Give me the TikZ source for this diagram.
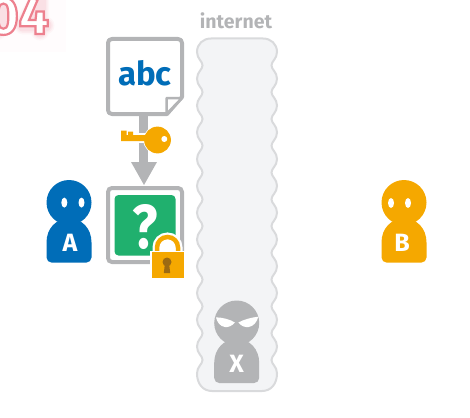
\documentclass[tikz,border=0pt]{standalone}
\usepackage{fontspec}
\setmainfont{Fira Sans}
\definecolor{gr}{HTML}{B3B4B6}
\definecolor{blu}{HTML}{006DB8}
\definecolor{org}{HTML}{F5A800}
\definecolor{grn}{HTML}{20B06E}
\definecolor{cloudf}{HTML}{F3F4F6}
\definecolor{cloudl}{HTML}{D9DADC}
\definecolor{pinkl}{HTML}{EE7F8E}
\definecolor{keyh}{HTML}{9C6A12}
\tikzset{
  person/.pic={
    \fill[pic actions] (-22.5,40) .. controls (-22.5,26) and (-13,16) .. (0,16) .. controls (13,16) and (22.5,26) .. (22.5,40)
       -- (22.5,55) .. controls (22.5,58) and (20,60) .. (17.5,60) -- (-17.5,60) .. controls (-20,60) and (-22.5,58) .. (-22.5,55) -- cycle;
    \fill[pic actions] (0,0) circle (22.5);
  },
  plabel/.style={font=\bfseries\fontsize{25}{25}\selectfont,text=white,inner sep=0pt},
  titlelab/.style={font=\bfseries\fontsize{19.5}{20}\selectfont,text=gr,inner sep=0pt},
  wm/.style={font=\bfseries\fontsize{53}{53}\selectfont,inner sep=0pt,anchor=base east},
  glowfour/.style={pinkl,line join=round,line cap=round},
}
\begin{document}
\begin{tikzpicture}[x=1pt,y=-1pt]
\useasboundingbox (0,0) rectangle (470,417);
\clip (0,0) rectangle (470,417);
% watermark
\fill[white!98!pinkl] (0,0) rectangle (66,52);
\foreach \w/\o in {18/.05,15/.07,12/.1}{
  \draw[glowfour,opacity=\o,line width=\w pt] (-5,12) ellipse [x radius=9,y radius=20];
  \draw[glowfour,opacity=\o,line width=\w pt] (40,31.5) -- (40,-3) -- (23,25.5) -- (45.5,25.5);
}
\node[wm,text=white] (wmark) at (49,34) {\special{pdf:code q 0.93 0.5 0.557 RG 2.2 w 2 Tr}04\special{pdf:code 0 Tr Q}};
% internet
\node[titlelab] (title) at (236,21) {internet};
\path[fill=cloudf,draw=cloudl,line width=2pt]
  (211,38.5) -- (263,38.5) .. controls (271,38.5) and (277,44) .. (277,52)
  \foreach \k in {0,...,11}{
    .. controls (277,{52+\k*26.78+7}) and (271.5,{52+\k*26.78+9}) .. (271.5,{52+\k*26.78+13.4}) .. controls (271.5,{52+\k*26.78+17.8}) and (277,{52+\k*26.78+19.8}) .. (277,{52+\k*26.78+26.78})
  }
  .. controls (277,384) and (271,391) .. (262,391) -- (212,391) .. controls (203,391) and (197,384) .. (197,373.4)
  \foreach \k in {12,...,1}{
    .. controls (197,{52+\k*26.78-7}) and (202.5,{52+\k*26.78-9}) .. (202.5,{52+\k*26.78-13.4}) .. controls (202.5,{52+\k*26.78-17.8}) and (197,{52+\k*26.78-19.8}) .. (197,{52+\k*26.78-26.78})
  }
  .. controls (197,44) and (203,38.5) .. (211,38.5) -- cycle;
% arrow shaft and head
\fill[gr] (138.5,110) rectangle (148,163);
\fill[gr] (131,162) -- (157,162) -- (144,185) -- cycle;
% document
\draw[gr,line width=4pt,line join=round,fill=white] (112,39) -- (178,39) .. controls (180.5,39) and (182,40.5) .. (182,43)
  -- (182,97) -- (167,114) -- (112,114) .. controls (109.5,114) and (108,112.5) .. (108,110) -- (108,43) .. controls (108,40.5) and (109.5,39) .. (112,39) -- cycle;
\draw[gr,line width=2.5pt,line join=round,fill=white] (182,98) -- (166.5,98) -- (166.5,114) -- cycle;
\node[inner sep=0pt,text=blu,font=\bfseries\fontsize{33}{33}\selectfont] (abc) at (145,73) {abc};
% key
\path[draw=white,line width=1.5pt] (120,134) rectangle (147,142);
\path[draw=white,line width=1.5pt] (157.5,140) circle (13.4);
\fill[org] (121,130.7) -- (126.5,130.7) -- (126.5,135) -- (128,135) -- (128,131.7) -- (133,131.7) -- (133,135) -- (150,135) -- (150,141) -- (121,141) -- cycle;
\fill[org] (157.5,140) circle (13.4);
\fill[white] (164.3,139) circle (3);
% locked box
\draw[gr,line width=4pt,rounded corners=4pt,fill=white] (108,188) rectangle (182,262);
\fill[grn,rounded corners=4pt] (114.5,195) rectangle (175.5,255.5);
\node[inner sep=0pt,text=white,font=\bfseries\fontsize{62}{62}\selectfont] (q) at (144.7,227) {\scalebox{.85}[1]{?}};
% padlock
\draw[white,fill=white,line width=9pt] (157,254) -- (157,247.5) arc[start angle=180,end angle=360,radius=10.5] -- (178,254) -- cycle;
\draw[org,line width=4.5pt] (157,254) -- (157,247.5) arc[start angle=180,end angle=360,radius=10.5] -- (178,254);
\draw[white,line width=2pt] (151,252) rectangle (184,278.5);
\fill[org] (152,252) rectangle (183.5,278);
\fill[keyh] (167,262) circle (4.5);
\fill[keyh] (165,263) -- (169,263) -- (170.2,273) -- (163.8,273) -- cycle;
% A
\pic[blu] at (69,202.5) {person};
\fill[white] (64.3,202.6) ellipse [x radius=3,y radius=5];
\fill[white] (81.5,202.6) ellipse [x radius=3,y radius=5];
\node[plabel] (A) at (70,243) {A};
% B
\pic[org] at (404,202.5) {person};
\fill[white] (391,203) ellipse [x radius=3,y radius=5];
\fill[white] (408,203) ellipse [x radius=3,y radius=5];
\node[plabel] (B) at (402,243) {B};
% X
\pic[gr] at (236.7,323) {person};
\fill[white] (216,317.3) .. controls (223,317.5) and (230,319.5) .. (235,322.5) .. controls (232,326) and (228,327.5) .. (225,327) .. controls (220,326.5) and (217,322) .. (216,317.3) -- cycle;
\fill[white] (258.3,316.7) .. controls (251,317.5) and (244,319.5) .. (238.3,322.5) .. controls (241,326) and (245,327.5) .. (248.5,327) .. controls (253.5,326.5) and (257,322) .. (258.3,316.7) -- cycle;
\node[plabel] (X) at (236.7,364) {X};
\end{tikzpicture}
\end{document}
